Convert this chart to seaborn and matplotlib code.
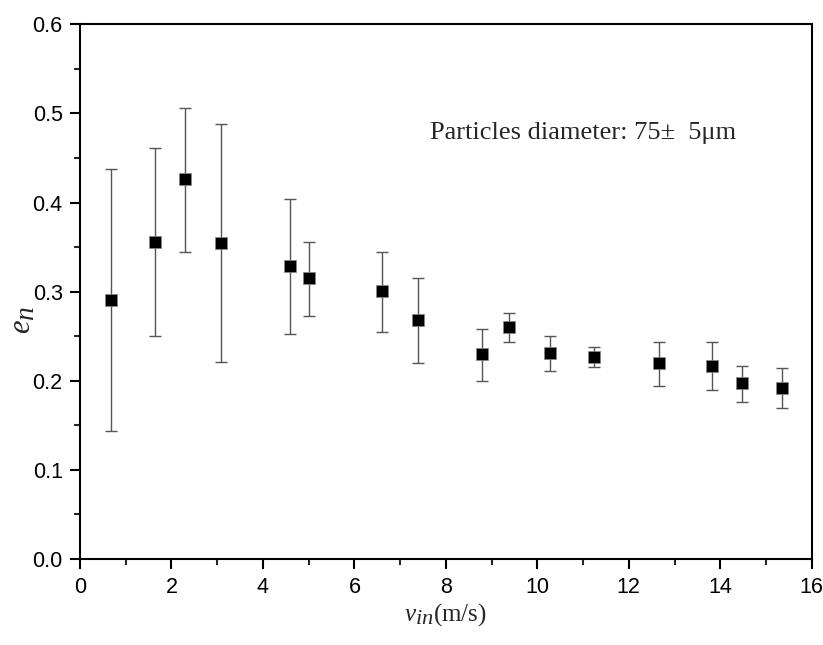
import matplotlib
matplotlib.use("Agg")
import matplotlib.pyplot as plt
from matplotlib.ticker import MultipleLocator
import seaborn as sns
import pandas as pd
import numpy as np

try:
    import matplotlib._mathtext as _mt
    _mt.SHRINK_FACTOR = 0.9
except Exception:
    pass

# Data
v_in = [0.68, 1.65, 2.29, 3.08, 4.60, 5.01, 6.61, 7.38, 8.79, 9.37,
        10.28, 11.25, 12.65, 13.83, 14.48, 15.34]
e_n = [0.291, 0.356, 0.426, 0.355, 0.329, 0.315, 0.301, 0.268, 0.230, 0.260,
       0.231, 0.227, 0.220, 0.217, 0.198, 0.192]
err_top = [0.438, 0.461, 0.506, 0.488, 0.404, 0.356, 0.344, 0.315, 0.258, 0.276,
           0.250, 0.238, 0.244, 0.243, 0.217, 0.214]
err_bottom = [0.144, 0.250, 0.344, 0.221, 0.252, 0.273, 0.255, 0.220, 0.200, 0.243,
              0.211, 0.215, 0.194, 0.190, 0.176, 0.169]
annotation = "Particles diameter: 75\u00b1  5\u03bcm"

df = pd.DataFrame({"v_in": v_in, "e_n": e_n, "top": err_top, "bottom": err_bottom})

sns.set_style("white")
plt.rcParams["font.family"] = ["Liberation Sans", "DejaVu Sans"]
plt.rcParams["mathtext.fontset"] = "custom"
plt.rcParams["mathtext.rm"] = "Liberation Serif"
plt.rcParams["mathtext.it"] = "Liberation Serif:italic"

fig = plt.figure(figsize=(8.23, 6.45), dpi=100)
ax = fig.add_axes([0.0972, 0.1333, 0.8891, 0.8290])

yerr = np.vstack([df["e_n"] - df["bottom"], df["top"] - df["e_n"]])
ax.errorbar(df["v_in"], df["e_n"], yerr=yerr, fmt="none", ecolor="#555555",
            elinewidth=1.0, capsize=4, capthick=1.0, zorder=2)
sns.scatterplot(data=df, x="v_in", y="e_n", marker="s", s=75, color="black",
                edgecolor="#888888", linewidth=0.5, ax=ax, zorder=3, legend=False)

ax.set_xlim(0, 16)
ax.set_ylim(0.0, 0.6)
ax.xaxis.set_major_locator(MultipleLocator(2))
ax.xaxis.set_minor_locator(MultipleLocator(1))
ax.yaxis.set_minor_locator(MultipleLocator(0.05))
ax.set_yticks(np.round(np.arange(0, 0.61, 0.1), 1))
ax.set_yticklabels([f"{v:.1f}" for v in np.arange(0, 0.61, 0.1)])

for s in ax.spines.values():
    s.set_linewidth(1.5)
    s.set_color("black")

ax.tick_params(axis="both", which="major", direction="out", length=7, width=1.5,
               labelsize=15.5, colors="black", bottom=True, left=True, top=False, right=False)
ax.tick_params(axis="x", which="major", pad=6)
ax.tick_params(axis="y", which="major", pad=5.5)
ax.tick_params(axis="both", which="minor", direction="out", length=4.5, width=1.5,
               bottom=True, left=True, top=False, right=False)

ax.set_xlabel(r"$v_{in}$(m/s)", fontsize=18, family="Liberation Serif")
ax.set_ylabel(r"$e_{n}$", fontsize=22, family="Liberation Serif")
ax.xaxis.set_label_coords(0.5, -0.079)
ax.yaxis.set_label_coords(-0.058, 0.447)

ax.text(0.479, 0.797, annotation, transform=ax.transAxes, fontsize=19,
        family="Liberation Serif", ha="left", va="center")

fig.savefig("out.png", dpi=100)
